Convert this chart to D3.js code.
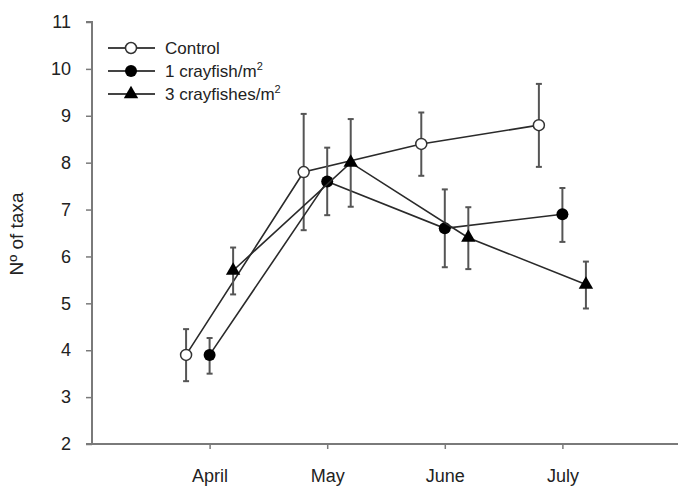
<!DOCTYPE html>
<html><head><meta charset="utf-8">
<script src="https://cdn.jsdelivr.net/npm/d3@7"></script>
<style>body{margin:0;background:#fff}svg{display:block}text{font-family:"Liberation Sans",Arial,sans-serif;fill:#222}</style>
</head><body><svg id="c" width="678" height="486"></svg>
<script>
const months = ["April","May","June","July"];
const yTicks = [2,3,4,5,6,7,8,9,10,11];
const seriesNames = ["Control","1 crayfish/m","3 crayfishes/m"];
const controlMean = [3.9,7.8,8.4,8.8];
const controlHi   = [4.45,9.04,9.07,9.68];
const controlLo   = [3.34,6.56,7.72,7.91];
const cray1Mean = [3.9,7.6,6.6,6.9];
const cray1Hi   = [4.26,8.32,7.43,7.46];
const cray1Lo   = [3.5,6.88,5.77,6.31];
const cray3Mean = [5.7,8.0,6.4,5.4];
const cray3Hi   = [6.19,8.93,7.05,5.89];
const cray3Lo   = [5.19,7.06,5.73,4.89];
const offsets = [-0.2,0,0.2];

const svg = d3.select("#c");
const x = d3.scaleLinear().domain([0,5]).range([92,680]);
const y = d3.scaleLinear().domain([2,11]).range([444,22]);

const axisCol = "#7a7a7a";
// y axis
const ya = svg.append("g").attr("transform","translate(92,0)")
  .call(d3.axisLeft(y).tickValues(yTicks).tickSize(6).tickPadding(15).tickFormat(d3.format("d")));
ya.select(".domain").attr("stroke",axisCol).attr("stroke-width",2).attr("d","M-6,22H0V444");
ya.selectAll(".tick line").attr("stroke",axisCol).attr("stroke-width",1.5);
ya.selectAll(".tick text").attr("font-size",18).attr("fill","#222").style("font-family","Liberation Sans, Arial, sans-serif");
// x axis
const xa = svg.append("g").attr("transform","translate(0,444)")
  .call(d3.axisBottom(x).tickValues([1,2,3,4]).tickSize(5).tickPadding(20).tickFormat((d)=>months[d-1]));
xa.select(".domain").attr("stroke",axisCol).attr("stroke-width",2).attr("d","M86,0H680");
xa.selectAll(".tick line").attr("stroke",axisCol).attr("stroke-width",1.5);
xa.selectAll(".tick text").attr("font-size",18).attr("fill","#222").style("font-family","Liberation Sans, Arial, sans-serif");

svg.append("text").attr("transform","translate(23,234) rotate(-90)")
  .attr("text-anchor","middle").attr("font-size",19).text("Nº of taxa");

const series = [
  {mean:controlMean,hi:controlHi,lo:controlLo,marker:"open"},
  {mean:cray1Mean,hi:cray1Hi,lo:cray1Lo,marker:"filled"},
  {mean:cray3Mean,hi:cray3Hi,lo:cray3Lo,marker:"tri"}
];
const lineCol = "#2a2a2a", errCol = "#555";
const line = d3.line().x(d=>x(d.i)).y(d=>y(d.v));
series.forEach((s,k)=>{
  const pts = s.mean.map((v,j)=>({i:j+1+offsets[k],v,hi:s.hi[j],lo:s.lo[j]}));
  const g = svg.append("g");
  pts.forEach(p=>{
    g.append("line").attr("x1",x(p.i)).attr("x2",x(p.i)).attr("y1",y(p.hi)).attr("y2",y(p.lo))
      .attr("stroke",errCol).attr("stroke-width",2);
    [p.hi,p.lo].forEach(e=>g.append("line").attr("x1",x(p.i)-3).attr("x2",x(p.i)+3)
      .attr("y1",y(e)).attr("y2",y(e)).attr("stroke",errCol).attr("stroke-width",2));
  });
  g.append("path").datum(pts).attr("d",line).attr("fill","none").attr("stroke",lineCol).attr("stroke-width",1.6);
  pts.forEach(p=>drawMarker(g,s.marker,x(p.i),y(p.v)));
});

function drawMarker(g,type,cx,cy){
  if(type==="open") g.append("circle").attr("cx",cx).attr("cy",cy).attr("r",5.5).attr("fill","#fff").attr("stroke","#333").attr("stroke-width",1.5);
  else if(type==="filled") g.append("circle").attr("cx",cx).attr("cy",cy).attr("r",6).attr("fill","#000");
  else g.append("path").attr("transform",`translate(${cx},${cy})`).attr("d",d3.symbol(d3.symbolTriangle,90)()).attr("fill","#000");
}

// legend
const lg = svg.append("g");
seriesNames.forEach((n,k)=>{
  const ly = 48 + k*23;
  lg.append("line").attr("x1",108).attr("x2",155).attr("y1",ly).attr("y2",ly).attr("stroke","#444").attr("stroke-width",2);
  drawMarker(lg,series[k].marker,131,ly);
  const t = lg.append("text").attr("x",165).attr("y",ly+6).attr("font-size",17).text(n);
  if(k>0) t.append("tspan").attr("dy",-7).attr("font-size",11).text("2");
});
</script></body></html>
